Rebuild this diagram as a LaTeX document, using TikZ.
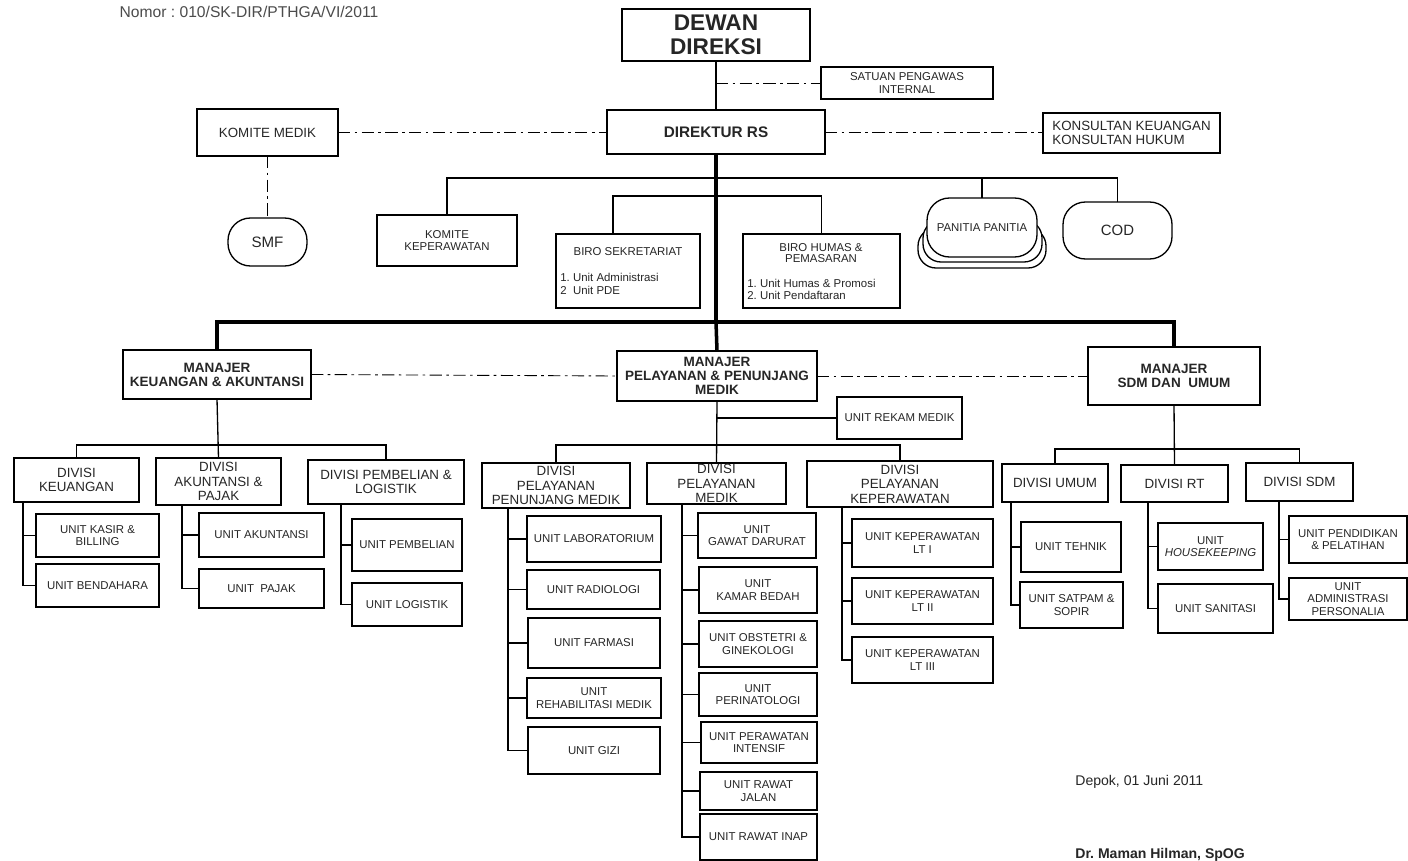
\documentclass[tikz,border=0pt]{standalone}
\usepackage{fontspec}
\setmainfont{Liberation Sans}
\frenchspacing
\newcommand\obox[7][]{\node[box,#1,minimum width={(#5-#3)*0.02cm},minimum height={(#6-#4)*0.02cm}] (#2) at ({(#3+#5)/2},{(#4+#6)/2}) {#7};}
\tikzset{
  box/.style={draw, line width=0.75pt, fill=white, inner sep=0pt, outer sep=0pt, align=center, text=black!85},
  pill/.style={rounded corners=0.45cm},
  fu/.style={font=\fontsize{6.5}{7}\selectfont},
  fd/.style={font=\fontsize{7.6}{8.2}\selectfont},
  fm/.style={font=\bfseries\fontsize{7.7}{7.9}\selectfont},
  conn/.style={line width=0.75pt},
  thickconn/.style={line width=2pt},
  dd/.style={line width=0.5pt, dash pattern=on 7pt off 2.5pt on 1.5pt off 2.5pt},
  txt/.style={inner sep=0pt, text=black!85},
}
\begin{document}
\begin{tikzpicture}[x=0.02cm,y=-0.02cm]
\useasboundingbox[fill=white] (0,0) rectangle (1408,861);

% header
\node[txt, text=black!70, font=\fontsize{8.9}{10}\selectfont] (nomor) at (249,12) {Nomor : 010/SK-DIR/PTHGA/VI/2011};

% top level
\obox[line width=1.4pt, font=\bfseries\fontsize{12.9}{13.6}\selectfont]{dewan}{622}{9}{810}{61}{DEWAN\\DIREKSI}
\obox[fu]{satuan}{821}{67}{993}{99}{SATUAN PENGAWAS\\INTERNAL}
\obox[font=\bfseries\fontsize{8.7}{9}\selectfont]{direk}{607}{110}{825}{154}{DIREKTUR RS}
\obox[fd]{kmed}{197}{109}{338}{156}{KOMITE MEDIK}
\obox[font=\fontsize{7.6}{7.9}\selectfont, align=left]{kons}{1043}{113}{1220}{153}{KONSULTAN KEUANGAN\\KONSULTAN HUKUM}
\obox[pill, font=\fontsize{8.6}{9}\selectfont]{smf}{228}{218}{307}{266}{SMF}

% staff row
\obox[fu]{kkep}{377}{215}{517}{266}{KOMITE\\KEPERAWATAN}
\obox{biro1}{556}{234}{700}{308}{}
\node[txt, fu] (biro1t) at (628,252) {BIRO SEKRETARIAT};
\node[txt, fu, anchor=west] (biro1a) at (560,277) {1. Unit Administrasi};
\node[txt, fu, anchor=west] (biro1b) at (560,290) {2\ \ Unit PDE};
\obox{biro2}{743}{234}{900}{308}{}
\node[txt, align=center, font=\fontsize{6.5}{6.3}\selectfont] (biro2t) at (821,253) {BIRO HUMAS \&\\PEMASARAN};
\node[txt, fu, anchor=west] (biro2a) at (747,283) {1. Unit Humas \& Promosi};
\node[txt, fu, anchor=west] (biro2b) at (747,295) {2. Unit Pendaftaran};
\obox[rounded corners=0.36cm]{pan3}{918}{228}{1046}{268}{}
\obox[rounded corners=0.36cm]{pan2}{923}{220}{1042}{262}{}
\obox[pill,fu]{pan}{927}{198}{1037}{257}{PANITIA PANITIA}
\obox[pill, font=\fontsize{8.5}{9}\selectfont]{cod}{1063}{202}{1172}{259}{COD}

% managers
\obox[fm]{mkeu}{123}{350}{311}{399}{MANAJER\\KEUANGAN \& AKUNTANSI}
\obox[fm]{mpel}{617}{351}{817}{401}{MANAJER\\PELAYANAN \& PENUNJANG\\MEDIK}
\obox[fm]{msdm}{1088}{347}{1260}{405}{MANAJER\\SDM DAN\ \ UMUM}
\obox[fu]{rekam}{837}{397}{962}{439}{UNIT REKAM MEDIK}

% divisions
\obox[fd]{dkeu}{14}{458}{139}{502}{DIVISI\\KEUANGAN}
\obox[fd]{dakun}{156}{458}{281}{505}{DIVISI\\AKUNTANSI \&\\PAJAK}
\obox[fd]{dpemb}{308}{460}{464}{504}{DIVISI PEMBELIAN \&\\LOGISTIK}
\obox[fd]{dpen}{482}{463}{630}{508}{DIVISI\\PELAYANAN\\PENUNJANG MEDIK}
\obox[fd]{dmed}{647}{463}{786}{504}{DIVISI\\PELAYANAN\\MEDIK}
\obox[fd]{dkep}{807}{461}{993}{507}{DIVISI\\PELAYANAN\\KEPERAWATAN}
\obox[fd]{dumum}{1002}{464}{1108}{502}{DIVISI UMUM}
\obox[fd]{drt}{1121}{465}{1228}{502}{DIVISI RT}
\obox[fd]{dsdm}{1246}{463}{1353}{501}{DIVISI SDM}

% units keuangan
\obox[fu]{ukasir}{36}{514}{159}{557}{UNIT KASIR \&\\BILLING}
\obox[fu]{ubend}{36}{564}{159}{607}{UNIT BENDAHARA}
\obox[fu]{uakun}{199}{513}{324}{557}{UNIT AKUNTANSI}
\obox[fu]{upajak}{199}{569}{324}{608}{UNIT\ \ PAJAK}
\obox[fu]{upemb}{352}{519}{462}{571}{UNIT PEMBELIAN}
\obox[fu]{ulog}{352}{583}{462}{626}{UNIT LOGISTIK}

% units penunjang
\obox[fu]{ulab}{527}{516}{661}{562}{UNIT LABORATORIUM}
\obox[fu]{urad}{527}{570}{660}{609}{UNIT RADIOLOGI}
\obox[fu]{ufar}{528}{618}{660}{668}{UNIT FARMASI}
\obox[fu]{urehab}{527}{678}{661}{718}{UNIT\\REHABILITASI MEDIK}
\obox[fu]{ugizi}{528}{727}{660}{774}{UNIT GIZI}

% units medik
\obox[fu]{ugd}{698}{513}{816}{558}{UNIT\\GAWAT DARURAT}
\obox[fu]{ukb}{699}{567}{817}{613}{UNIT\\KAMAR BEDAH}
\obox[fu]{uobs}{699}{621}{817}{667}{UNIT OBSTETRI \&\\GINEKOLOGI}
\obox[fu]{uperi}{699}{673}{817}{716}{UNIT\\PERINATOLOGI}
\obox[fu]{uint}{701}{722}{817}{763}{UNIT PERAWATAN\\INTENSIF}
\obox[fu]{urj}{700}{772}{817}{810}{UNIT RAWAT\\JALAN}
\obox[fu]{uri}{700}{814}{817}{860}{UNIT RAWAT INAP}

% units keperawatan
\obox[fu]{ult1}{852}{519}{993}{567}{UNIT KEPERAWATAN\\LT I}
\obox[fu]{ult2}{852}{578}{993}{624}{UNIT KEPERAWATAN\\LT II}
\obox[fu]{ult3}{852}{637}{993}{683}{UNIT KEPERAWATAN\\LT III}

% units sdm
\obox[fu]{utek}{1021}{522}{1121}{572}{UNIT TEHNIK}
\obox[fu]{usat}{1020}{582}{1123}{628}{UNIT SATPAM \&\\SOPIR}
\obox[fu]{uhk}{1158}{523}{1263}{570}{UNIT\\\textit{HOUSEKEEPING}}
\obox[fu]{usan}{1158}{584}{1273}{633}{UNIT SANITASI}
\obox[fu]{upend}{1289}{516}{1407}{563}{UNIT PENDIDIKAN\\\& PELATIHAN}
\obox[fu]{uadm}{1289}{578}{1407}{620}{UNIT\\ADMINISTRASI\\PERSONALIA}

% signature
\node[txt, anchor=west, font=\fontsize{8}{9}\selectfont] (depok) at (1075,782) {Depok, 01 Juni 2011};
\node[txt, anchor=west, font=\bfseries\fontsize{8}{9}\selectfont] (sign) at (1075,855) {Dr. Maman Hilman, SpOG};

% junction coordinates
\coordinate (t1) at (716,178);
\coordinate (t2) at (716,196);
\coordinate (t3) at (716,322);
\coordinate (bk) at (217,445);
\coordinate (bm) at (717,445);
\coordinate (bs) at (1174,449);

% connectors top
\draw[conn] (dewan.south) -- (direk.north);
\draw[dd] (dewan.south |- satuan.west) -- (satuan.west);
\draw[dd] (kmed.east) -- (kmed.east -| direk.west);
\draw[dd] (direk.east) -- (direk.east -| kons.west);
\draw[dd] (kmed.south) -- (smf.north);
\draw[conn] (kkep.north) |- (t1) -| (cod.north);
\draw[conn] (pan.north) -- (pan.north |- t1);
\draw[conn] (biro1.north west) ++(57,0) |- (t2) -| (biro2.north);
\draw[thickconn] (direk.south) -- (t3);
\draw[thickconn] (mkeu.north) |- (t3) -| (msdm.north);
\draw[thickconn] (t3) -- (mpel.north);
\draw[dd] (mkeu.east) -- (mpel.west);
\draw[dd] (mpel.east) -- (msdm.west);
\draw[conn] (mpel.south |- rekam.west) -- (rekam.west);

% manager to divisions
\draw[conn] (mkeu.south) -- (dakun.north);
\draw[conn] (dkeu.north) |- (bk) -| (dpemb.north);
\draw[conn] (mpel.south) -- (dmed.north);
\draw[conn] (dpen.north) |- (bm) -| (dkep.north);
\draw[conn] (msdm.south) -- (drt.north);
\draw[conn] (dumum.north) |- (bs) -| (dsdm.north);

% division spines
\draw[conn] (dkeu.south west) ++(9,0) |- (ukasir.west);
\draw[conn] (dkeu.south west) ++(9,0) |- (ubend.west);
\draw[conn] (dakun.south west) ++(26,0) |- (uakun.west);
\draw[conn] (dakun.south west) ++(26,0) |- (upajak.west);
\draw[conn] (dpemb.south west) ++(33,0) |- (upemb.west);
\draw[conn] (dpemb.south west) ++(33,0) |- (ulog.west);
\foreach \u in {ulab,urad,ufar,urehab,ugizi}
  \draw[conn] (dpen.south west) ++(26,0) |- (\u.west);
\foreach \u in {ugd,ukb,uobs,uperi,uint,urj,uri}
  \draw[conn] (dmed.south west) ++(35,0) |- (\u.west);
\foreach \u in {ult1,ult2,ult3}
  \draw[conn] (dkep.south west) ++(35,0) |- (\u.west);
\draw[conn] (dumum.south west) ++(9,0) |- (utek.west);
\draw[conn] (dumum.south west) ++(9,0) |- (usat.west);
\draw[conn] (drt.south west) ++(27,0) |- (uhk.west);
\draw[conn] (drt.south west) ++(27,0) |- (usan.west);
\draw[conn] (dsdm.south west) ++(33,0) |- (upend.west);
\draw[conn] (dsdm.south west) ++(33,0) |- (uadm.west);
\end{tikzpicture}
\end{document}
